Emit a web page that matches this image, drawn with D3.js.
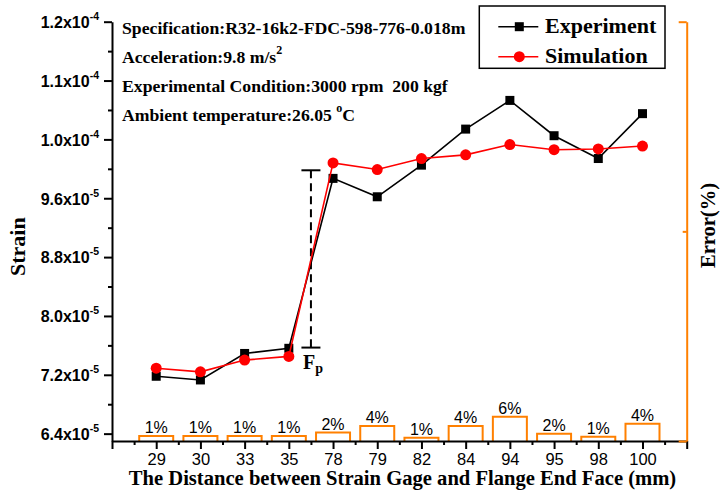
<!DOCTYPE html>
<html>
<head>
<meta charset="utf-8">
<script src="https://cdn.jsdelivr.net/npm/d3@7"></script>
<style>
  body { margin: 0; background: #fff; }
  svg { display: block; }
</style>
</head>
<body>
<div id="chart"></div>
<script>
// ----------------------------------------------- //
// Data
var distances = ["29", "30", "33", "35", "78", "79", "82", "84", "94", "95", "98", "100"];
var experiment = [7.18e-5, 7.13e-5, 7.49e-5, 7.56e-5, 9.87e-5, 9.62e-5, 10.05e-5, 10.54e-5, 10.93e-5, 10.45e-5, 10.14e-5, 10.75e-5];
var simulation = [7.29e-5, 7.24e-5, 7.40e-5, 7.45e-5, 10.08e-5, 9.99e-5, 10.14e-5, 10.19e-5, 10.33e-5, 10.26e-5, 10.27e-5, 10.31e-5];
var errorPct = [1.2, 1.2, 1.2, 1.2, 2.0, 3.6, 0.8, 3.6, 5.8, 1.7, 1.0, 4.1];
var strainTicks = [6.4e-5, 7.2e-5, 8.0e-5, 8.8e-5, 9.6e-5, 10.4e-5, 11.2e-5, 12.0e-5];
var fpRange = [7.57e-5, 9.98e-5];
var infoLines = [
    ["Specification:R32-16k2-FDC-598-776-0.018m", "", ""],
    ["Acceleration:9.8 m/s", "2", ""],
    ["Experimental Condition:3000 rpm\u00a0 200 kgf", "", ""],
    ["Ambient temperature:26.05 ", "o", "C"]
];

// ----------------------------------------------- //
var svgWidth = 724;
var svgHeight = 494;
var plotLeft = 112, plotRight = 686.7, plotTop = 21.7, plotBottom = 441;

var sans = "'Liberation Sans', Arial, sans-serif";
var serif = "'Liberation Serif', 'Times New Roman', serif";
var orange = "#ff8000";

var svg = d3.select("#chart")
    .append("svg")
    .attr("width", svgWidth)
    .attr("height", svgHeight);

// Scales
var xScale = d3.scalePoint().domain(distances).range([plotLeft, plotRight]).padding(1);
var xIndex = d3.scaleLinear().domain([0, distances.length + 1]).range([plotLeft, plotRight]);
var yScale = d3.scaleLinear().domain([6.3e-5, 1.2e-4]).range([plotBottom, plotTop]);
var errScale = d3.scaleLinear().domain([0, 100]).range([plotBottom, plotTop]);

// ----------------------------------------------- //
// Error bars (drawn first so the axis sits on them)
var barW = 34;
var bars = svg.append("g");
bars.selectAll("path")
    .data(errorPct)
    .enter()
    .append("path")
    .attr("d", function(d, i) {
        var cx = xScale(distances[i]);
        return "M" + (cx - barW / 2) + "," + plotBottom + "V" + errScale(d) + "H" + (cx + barW / 2) + "V" + plotBottom;
    })
    .attr("fill", "none")
    .attr("stroke", orange)
    .attr("stroke-width", 2);

bars.selectAll("text")
    .data(errorPct)
    .enter()
    .append("text")
    .attr("x", (d, i) => xScale(distances[i]))
    .attr("y", d => errScale(d) - 2.5)
    .attr("text-anchor", "middle")
    .attr("font-family", sans)
    .attr("font-size", "16px")
    .text(d => Math.round(d) + "%");

// ----------------------------------------------- //
// Left axis
var yAxis = svg.append("g")
    .attr("transform", `translate(${plotLeft},0)`)
    .call(d3.axisLeft(yScale).tickValues(strainTicks).tickSize(8).tickSizeOuter(0).tickFormat(""));

svg.append("g")
    .attr("transform", `translate(${plotLeft},0)`)
    .call(d3.axisLeft(yScale).tickValues(strainTicks.slice(0, -1).map(d => d + 0.4e-5)).tickSize(4).tickFormat(""))
    .select(".domain").remove();

yAxis.selectAll(".tick").each(function(d) {
    var exp = Math.floor(Math.log10(d) + 1e-9);
    var mant = (d / Math.pow(10, exp)).toFixed(1);
    var t = d3.select(this).append("text")
        .attr("x", -13)
        .attr("dy", "0.36em")
        .attr("text-anchor", "end")
        .attr("fill", "#000")
        .attr("font-family", sans)
        .attr("font-size", "16px")
        .attr("font-weight", "bold");
    t.append("tspan").text(mant + "x10");
    t.append("tspan").attr("font-size", "10.5px").attr("dy", "-0.75em").text(String(exp));
});

// Bottom axis
var xAxis = svg.append("g")
    .attr("transform", `translate(0,${plotBottom})`)
    .call(d3.axisBottom(xScale).tickSize(8).tickSizeOuter(0).tickPadding(4));

xAxis.selectAll("text")
    .attr("font-family", sans)
    .attr("font-size", "16.5px")
    .attr("fill", "#000");

svg.append("g")
    .attr("transform", `translate(0,${plotBottom})`)
    .call(d3.axisBottom(xIndex).tickValues([0, distances.length + 1]).tickSize(8).tickFormat(""))
    .select(".domain").remove();

svg.append("g")
    .attr("transform", `translate(0,${plotBottom})`)
    .call(d3.axisBottom(xIndex).tickValues(d3.range(0.5, distances.length + 1, 1)).tickSize(4).tickFormat(""))
    .select(".domain").remove();

svg.selectAll(".domain, .tick line").attr("stroke-width", 2);

// Right (error) axis
var rAxis = svg.append("g")
    .attr("transform", `translate(${plotRight},0)`)
    .call(d3.axisLeft(errScale).tickValues([0, 100]).tickSize(8).tickSizeOuter(0).tickFormat(""));
var rMinor = svg.append("g")
    .attr("transform", `translate(${plotRight},0)`)
    .call(d3.axisLeft(errScale).tickValues([50]).tickSize(4).tickFormat(""));
rMinor.select(".domain").remove();
[rAxis, rMinor].forEach(function(g) {
    g.selectAll(".domain, .tick line").attr("stroke", orange).attr("stroke-width", 2);
});

// Axis titles
svg.append("text")
    .attr("transform", "translate(25,246.7) rotate(-90)")
    .attr("text-anchor", "middle")
    .attr("font-family", serif)
    .attr("font-weight", "bold")
    .attr("font-size", "22px")
    .text("Strain");

svg.append("text")
    .attr("transform", "translate(715,225.5) rotate(-90)")
    .attr("text-anchor", "middle")
    .attr("font-family", serif)
    .attr("font-weight", "bold")
    .attr("font-size", "20.5px")
    .text("Error(%)");

svg.append("text")
    .attr("x", 402.5)
    .attr("y", 485)
    .attr("text-anchor", "middle")
    .attr("font-family", serif)
    .attr("font-weight", "bold")
    .attr("font-size", "20.6px")
    .text("The Distance between Strain Gage and Flange End Face (mm)");

// ----------------------------------------------- //
// Fp annotation
var fpX = xIndex(4.5);
var fp = svg.append("g").attr("stroke", "#000").attr("stroke-width", 2);
fp.append("line")
    .attr("x1", fpX).attr("x2", fpX)
    .attr("y1", yScale(fpRange[1])).attr("y2", yScale(fpRange[0]))
    .attr("stroke-dasharray", "8,5");
fpRange.forEach(function(v) {
    fp.append("line")
        .attr("x1", fpX - 9.5).attr("x2", fpX + 9.5)
        .attr("y1", yScale(v)).attr("y2", yScale(v));
});
var fpText = svg.append("text")
    .attr("x", fpX - 8)
    .attr("y", yScale(fpRange[0]) + 21)
    .attr("font-family", serif)
    .attr("font-weight", "bold")
    .attr("font-size", "20px");
fpText.append("tspan").text("F");
fpText.append("tspan").attr("font-size", "14px").attr("dy", "0.35em").text("p");

// ----------------------------------------------- //
// Lines and markers
var line = d3.line()
    .x((d, i) => xScale(distances[i]))
    .y(d => yScale(d));

svg.append("path")
    .datum(experiment)
    .attr("d", line)
    .attr("fill", "none")
    .attr("stroke", "#000")
    .attr("stroke-width", 1.6);

svg.selectAll(".expPoint")
    .data(experiment)
    .enter()
    .append("rect")
    .attr("class", "expPoint")
    .attr("x", (d, i) => xScale(distances[i]) - 4.5)
    .attr("y", d => yScale(d) - 4.5)
    .attr("width", 9)
    .attr("height", 9)
    .attr("fill", "#000");

svg.append("path")
    .datum(simulation)
    .attr("d", line)
    .attr("fill", "none")
    .attr("stroke", "#ff0000")
    .attr("stroke-width", 1.6);

svg.selectAll(".simPoint")
    .data(simulation)
    .enter()
    .append("circle")
    .attr("class", "simPoint")
    .attr("cx", (d, i) => xScale(distances[i]))
    .attr("cy", d => yScale(d))
    .attr("r", 5.5)
    .attr("fill", "#ff0000");

// ----------------------------------------------- //
// Info text
var info = svg.append("g")
    .attr("font-family", serif)
    .attr("font-weight", "bold")
    .attr("font-size", "17.7px");
infoLines.forEach(function(l, i) {
    var t = info.append("text").attr("x", 122).attr("y", 34 + i * 29);
    t.append("tspan").text(l[0]);
    if (l[1]) {
        t.append("tspan").attr("font-size", "12px").attr("dy", "-0.75em").text(l[1]);
        if (l[2]) t.append("tspan").attr("dy", "0.5em").text(l[2]);
    }
});

// Legend
var legend = svg.append("g");
legend.append("rect")
    .attr("x", 479.3).attr("y", 6)
    .attr("width", 185.7).attr("height", 62.3)
    .attr("fill", "#fff")
    .attr("stroke", "#000")
    .attr("stroke-width", 1.5);
var legendItems = [
    { name: "Experiment", color: "#000", y: 26.7, shape: "square" },
    { name: "Simulation", color: "#ff0000", y: 56.7, shape: "circle" }
];
legendItems.forEach(function(it) {
    legend.append("line")
        .attr("x1", 498.3).attr("x2", 538.3)
        .attr("y1", it.y).attr("y2", it.y)
        .attr("stroke", it.color).attr("stroke-width", 1.6);
    if (it.shape === "square") {
        legend.append("rect").attr("x", 519.3 - 4.5).attr("y", it.y - 4.5)
            .attr("width", 9).attr("height", 9).attr("fill", it.color);
    } else {
        legend.append("circle").attr("cx", 519.3).attr("cy", it.y).attr("r", 5.5).attr("fill", it.color);
    }
    legend.append("text")
        .attr("x", 545).attr("y", it.y + 6.5)
        .attr("font-family", serif)
        .attr("font-weight", "bold")
        .attr("font-size", "22px")
        .text(it.name);
});
</script>
</body>
</html>
